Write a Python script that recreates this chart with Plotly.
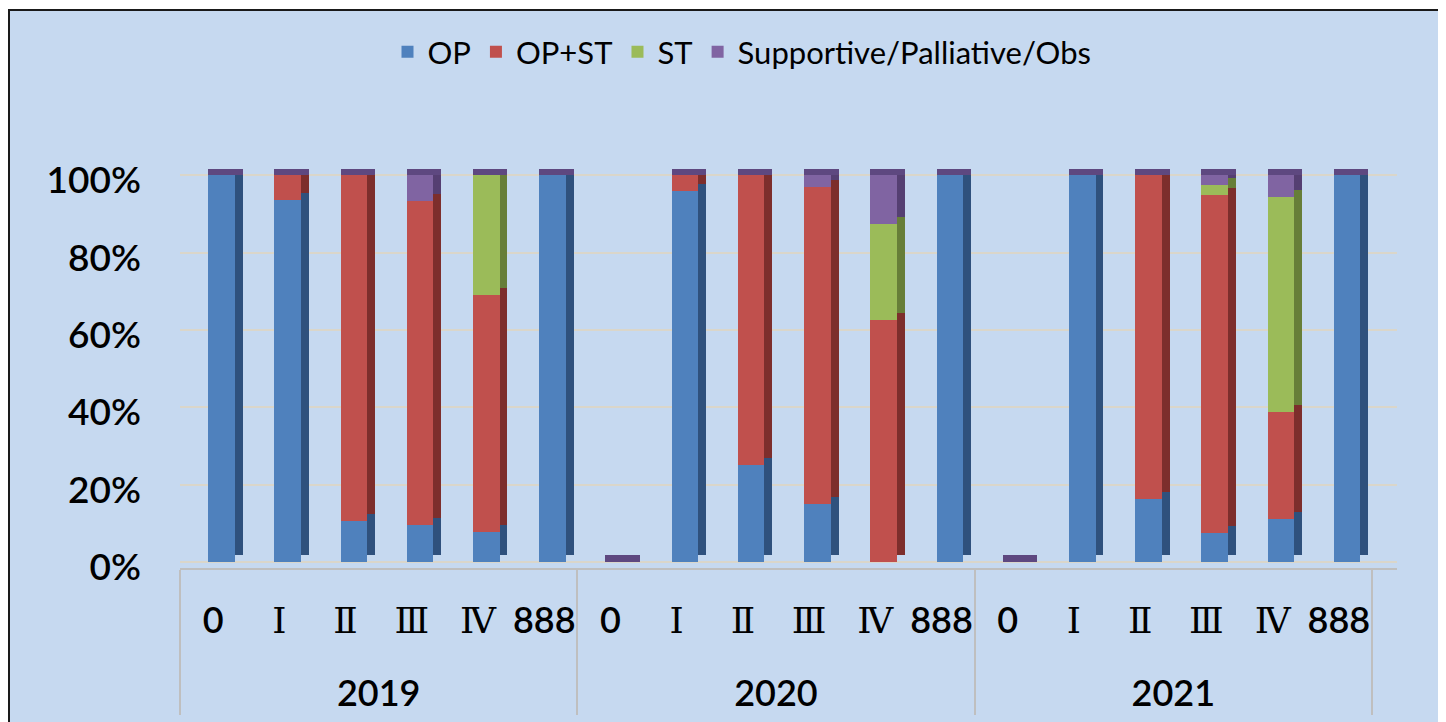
import numpy as np
import plotly.graph_objects as go

# ---------------- data ----------------
years = ["2019"] * 6 + ["2020"] * 6 + ["2021"] * 6
stages = ["0", "Ⅰ", "Ⅱ", "Ⅲ", "Ⅳ", "888"] * 3

op =         [100, 93.6, 10.6,  9.7,  7.7, 100,   0, 95.9, 25.0, 15.1,  0.0, 100,   0, 100, 16.4,  7.5, 11.1, 100]
op_st =      [0,    6.4, 89.4, 83.6, 61.3,   0,   0,  4.1, 75.0, 81.9, 62.5,   0,   0,   0, 83.6, 87.4, 27.6,   0]
st =         [0,    0.0,  0.0,  0.0, 31.0,   0,   0,  0.0,  0.0,  0.0, 25.0,   0,   0,   0,  0.0,  2.6, 55.7,   0]
supportive = [0,    0.0,  0.0,  6.7,  0.0,   0,   0,  0.0,  0.0,  3.0, 12.5,   0,   0,   0,  0.0,  2.5,  5.6,   0]

series_names = ["OP", "OP+ST", "ST", "Supportive/Palliative/Obs"]
series_values = [op, op_st, st, supportive]

# ---------------- style ----------------
front_colors = ["#4F81BD", "#C0504D", "#9BBB59", "#8064A2"]
side_colors = ["#2F517D", "#7D2E2C", "#677E38", "#553F72"]
cap_color = "#5E4880"
bg = "#C6D9F0"
DEPTH = 1.8          # visual depth of the pseudo-3D bars (in axis units)
FRONT_OFF, FRONT_W = -0.075, 0.40
SIDE_OFF, SIDE_W = 0.325, 0.12

font_main = "Lato, 'Noto Sans CJK TC', sans-serif"
roman_font = "'DejaVu Serif', 'Liberation Serif', serif"


def stage_display(s):
    # serif glyphs for the Roman numerals; the blank second line leaves room
    # between the stage row and the year row of the category axis
    if s.isdigit():
        body = s
    else:
        body = f"<span style=\"font-family:{roman_font};font-weight:normal\">{s}</span>"
    return body + "<br>&nbsp;"


x = [years, [stage_display(s) for s in stages]]
vals = np.array(series_values, dtype=float)
bases = np.vstack([np.zeros(vals.shape[1]), np.cumsum(vals, axis=0)[:-1]])
totals = vals.sum(axis=0)

fig = go.Figure()

# side faces
for i, name in enumerate(series_names):
    fig.add_trace(go.Bar(
        x=x, y=vals[i], base=bases[i] + DEPTH, offset=SIDE_OFF, width=SIDE_W,
        marker=dict(color=side_colors[i], line=dict(width=0)),
        showlegend=False, hoverinfo="skip"))

# top caps
fig.add_trace(go.Bar(
    x=x, y=[DEPTH] * len(totals), base=totals, offset=FRONT_OFF, width=FRONT_W + SIDE_W,
    marker=dict(color=cap_color, line=dict(width=0)),
    showlegend=False, hoverinfo="skip"))

# front faces
for i, name in enumerate(series_names):
    fig.add_trace(go.Bar(
        x=x, y=vals[i], base=bases[i], offset=FRONT_OFF, width=FRONT_W,
        name=name, marker=dict(color=front_colors[i], line=dict(width=0))))

PAGE = 8                         # browser body margin
W, H = 1446 - PAGE, 722 - PAGE
L, T = 180 - PAGE, 160 - PAGE
R = W - (1397 - PAGE)
B = H - (568 - PAGE)
pw, ph = W - L - R, H - T - B


def px_to_paper_x(p):
    return (p - PAGE - L) / pw


def px_to_paper_y(p):
    return (H - B - (p - PAGE)) / ph


fig.add_shape(type="rect", xref="paper", yref="paper",
              x0=px_to_paper_x(9), x1=px_to_paper_x(1470),
              y0=px_to_paper_y(760), y1=px_to_paper_y(10),
              fillcolor=bg, line=dict(color="#1a1a1a", width=2), layer="below")

fig.update_layout(
    width=W, height=H,
    margin=dict(l=L, r=R, t=T, b=B, autoexpand=False),
    paper_bgcolor="white",
    plot_bgcolor="rgba(0,0,0,0)",
    barmode="overlay",
    bargap=0,
    font=dict(family=font_main, color="black"),
    legend=dict(orientation="h", xref="container", yref="container",
                x=(742 - PAGE) / W, xanchor="center",
                y=1 - (52 - PAGE) / H, yanchor="middle",
                font=dict(size=31, family=font_main), bgcolor="rgba(0,0,0,0)",
                itemwidth=30, traceorder="normal"),
    showlegend=True,
)

fig.update_yaxes(range=[-1.55, 104], tickvals=[0, 20, 40, 60, 80, 100],
                 ticktext=["0%", "20%", "40%", "60%", "80%", "100%"],
                 tickfont=dict(size=37, family=font_main, weight=600),
                 showgrid=True, gridcolor="#DAD6CA", gridwidth=2,
                 zeroline=False, showline=False, ticks="", automargin=False,
                 ticklabelstandoff=38, ticklabelshift=5)

fig.update_xaxes(type="multicategory", range=[-0.5, 17.878],
                 tickfont=dict(size=36, family=font_main, weight=600), tickangle=0,
                 showline=True, linecolor="#BFBFBF", linewidth=2,
                 showdividers=True, dividercolor="#BFBFBF", dividerwidth=2,
                 ticks="", showgrid=False, ticklabelstandoff=20, automargin=False)

fig.write_html("out.html")
